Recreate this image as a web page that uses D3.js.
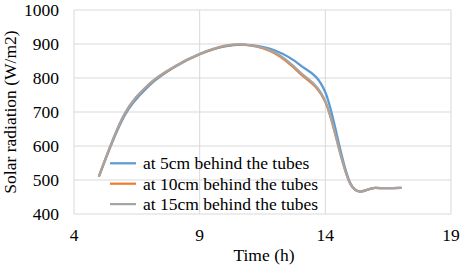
<!doctype html>
<html>
<head>
  <meta charset="utf-8">
  <script src="https://cdnjs.cloudflare.com/ajax/libs/d3/7.8.5/d3.min.js"></script>
  <style>
    body { margin: 0; background: #fff; }
    svg { display: block; }
  </style>
</head>
<body>
  <svg id="chart" width="462" height="268" font-family="'Times New Roman', 'Liberation Serif', Times, 'DejaVu Serif', serif"></svg>
<script>
  // hourly readings
  var hours = [5, 6, 7, 8, 9, 10, 11, 12, 13, 14, 15, 16, 17];
  var at5cm  = [512, 688, 778, 832, 870, 893, 897, 881, 838, 758, 490, 477, 477];
  var at10cm = [512, 692, 782, 833, 870, 894, 896, 872, 813, 729, 488, 477, 477];
  var at15cm = [512, 693, 783, 834, 871, 895, 897, 875, 817, 732, 488, 477, 477];
  var seriesNames = ["at 5cm behind the tubes", "at 10cm behind the tubes", "at 15cm behind the tubes"];
  var colors = ["#5b9bd5", "#ed7d31", "#a5a5a5"];
  var xTicks = [4, 9, 14, 19];
  var yTicks = [400, 500, 600, 700, 800, 900, 1000];

  var svg = d3.select("#chart");
  var plotL = 74, plotR = 451, plotT = 10, plotB = 214;
  var fs = 17.5;

  var x = d3.scaleLinear().domain([4, 19]).range([plotL, plotR]);
  var y = d3.scaleLinear().domain([400, 1000]).range([plotB, plotT]);

  // gridlines
  svg.append("g").selectAll("line").data(yTicks).join("line")
    .attr("x1", plotL).attr("x2", plotR)
    .attr("y1", d => y(d)).attr("y2", d => y(d))
    .attr("stroke", "#d9d9d9").attr("stroke-width", 1);
  svg.append("g").selectAll("line").data(xTicks).join("line")
    .attr("x1", d => x(d)).attr("x2", d => x(d))
    .attr("y1", plotT).attr("y2", plotB)
    .attr("stroke", "#d9d9d9").attr("stroke-width", 1);

  // tick labels
  svg.append("g").selectAll("text").data(yTicks).join("text")
    .attr("x", 59).attr("y", d => y(d) + 5.8)
    .attr("text-anchor", "end").attr("font-size", fs).attr("fill", "#000")
    .text(d => d);
  svg.append("g").selectAll("text").data(xTicks).join("text")
    .attr("x", d => x(d)).attr("y", 241)
    .attr("text-anchor", "middle").attr("font-size", fs).attr("fill", "#000")
    .text(d => d);

  // axis titles
  svg.append("text").attr("x", 264).attr("y", 261)
    .attr("text-anchor", "middle").attr("font-size", fs).text("Time (h)");
  svg.append("text").attr("transform", "translate(16,112) rotate(-90)")
    .attr("text-anchor", "middle").attr("font-size", fs).text("Solar radiation (W/m2)");

  // lines
  var line = d3.line()
    .x((d, i) => x(hours[i]))
    .y(d => y(d))
    .curve(d3.curveCardinal.tension(0));

  [at5cm, at10cm, at15cm].forEach(function(vals, k) {
    svg.append("path")
      .attr("d", line(vals))
      .attr("fill", "none")
      .attr("stroke", colors[k])
      .attr("stroke-width", 2.25)
      .attr("stroke-linejoin", "round")
      .attr("stroke-linecap", "round");
  });

  // legend
  var lg = svg.append("g");
  seriesNames.forEach(function(name, k) {
    var ly = 163.3 + k * 20.4;
    lg.append("line")
      .attr("x1", 110).attr("x2", 136)
      .attr("y1", ly).attr("y2", ly)
      .attr("stroke", colors[k]).attr("stroke-width", 2.25);
    lg.append("text")
      .attr("x", 143).attr("y", ly + 5.8)
      .attr("font-size", fs).attr("fill", "#000")
      .text(name);
  });
</script>
</body>
</html>
